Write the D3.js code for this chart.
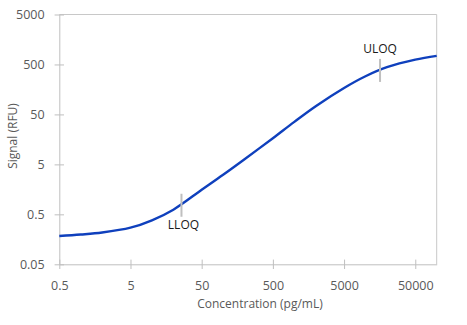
<!DOCTYPE html>
<html>
<head>
<meta charset="utf-8">
<script src="https://cdn.jsdelivr.net/npm/d3@7"></script>
<style>
  html, body { margin: 0; padding: 0; background: #fff; }
  svg { display: block; }
  text { font-family: "Open Sans", "Segoe UI", sans-serif; }
</style>
</head>
<body>
<svg id="chart" width="467" height="325"></svg>
<script>
// ---- data ----
const concentration = [0.5, 1, 2, 5, 10, 20, 50, 100, 200, 500, 1000, 2000, 5000, 10000, 20000, 50000, 100000];
const signal        = [0.184, 0.197, 0.216, 0.27, 0.38, 0.62, 1.55, 3.1, 6.35, 16.7, 35.5, 73, 169, 290, 440, 624, 743];
const xTickValues = [0.5, 5, 50, 500, 5000, 50000];
const xTickLabels = ["0.5", "5", "50", "500", "5000", "50000"];
const yTickValues = [0.05, 0.5, 5, 50, 500, 5000];
const yTickLabels = ["0.05", "0.5", "5", "50", "500", "5000"];
const markerNames = ["LLOQ", "ULOQ"];
const markerConc  = [26, 16000];
const markerSignal = [0.76, 380];
const xTitle = "Concentration (pg/mL)";
const yTitle = "Signal (RFU)";

// ---- layout ----
const svg = d3.select("#chart");
const mLeft = 59.3, mRight = 436.7, mTop = 14.5, mBottom = 264.3;
const x = d3.scaleLog().domain([0.5, 100000]).range([mLeft, mRight]);
const y = d3.scaleLog().domain([0.05, 5000]).range([mBottom, mTop]);
const axisColor = "#bfbfbf";
const labelColor = "#595959";

// frame (top + right)
svg.append("line").attr("x1", mLeft).attr("x2", mRight).attr("y1", mTop).attr("y2", mTop)
  .attr("stroke", "#c8c8c8").attr("stroke-width", 1);
svg.append("line").attr("x1", mRight).attr("x2", mRight).attr("y1", mTop).attr("y2", mBottom)
  .attr("stroke", "#c8c8c8").attr("stroke-width", 1);

// x axis
const xAxis = d3.axisBottom(x).tickValues(xTickValues)
  .tickFormat((d, i) => xTickLabels[i]).tickSizeOuter(0).tickSizeInner(4.7).tickPadding(12);
const gx = svg.append("g").attr("transform", `translate(0,${mBottom})`).call(xAxis);
gx.select(".domain").attr("stroke", axisColor);
gx.selectAll(".tick line").attr("y1", -4.7).attr("y2", 4.7).attr("stroke", axisColor);
gx.selectAll(".tick text").attr("fill", labelColor).attr("font-size", "12.5px")
  .attr("font-family", "'Open Sans', sans-serif");

// y axis
const yAxis = d3.axisLeft(y).tickValues(yTickValues)
  .tickFormat((d, i) => yTickLabels[i]).tickSizeOuter(0).tickSizeInner(4.7).tickPadding(10);
const gy = svg.append("g").attr("transform", `translate(${mLeft},0)`).call(yAxis);
gy.select(".domain").attr("stroke", axisColor);
gy.selectAll(".tick line").attr("x1", -4.7).attr("x2", 4.7).attr("stroke", axisColor);
gy.selectAll(".tick text").attr("fill", labelColor).attr("font-size", "12.5px")
  .attr("font-family", "'Open Sans', sans-serif");

// axis titles
svg.append("text").attr("x", 260).attr("y", 307.5).attr("text-anchor", "middle")
  .attr("fill", labelColor).attr("font-size", "12px").text(xTitle);
svg.append("text").attr("transform", "translate(16.5,136) rotate(-90)").attr("text-anchor", "middle")
  .attr("fill", labelColor).attr("font-size", "12px").text(yTitle);

// curve
const pts = concentration.map((c, i) => [c, signal[i]]);
const line = d3.line().x(d => x(d[0])).y(d => y(d[1])).curve(d3.curveCatmullRom.alpha(0.5));
svg.append("path").datum(pts).attr("d", line)
  .attr("fill", "none").attr("stroke", "#0f40bd").attr("stroke-width", 2.4);

// LLOQ / ULOQ markers
markerNames.forEach((name, i) => {
  const mx = x(markerConc[i]), my = y(markerSignal[i]);
  svg.append("line").attr("x1", mx).attr("x2", mx).attr("y1", my - 11.5).attr("y2", my + 11.5)
    .attr("stroke", "#bfbfbf").attr("stroke-width", 2);
  const below = i === 0;
  svg.append("text").attr("x", mx + (below ? 2 : 0)).attr("y", below ? my + 24 : my - 17)
    .attr("text-anchor", "middle").attr("fill", "#1a1a1a").attr("font-size", "12px").text(name);
});
</script>
</body>
</html>
